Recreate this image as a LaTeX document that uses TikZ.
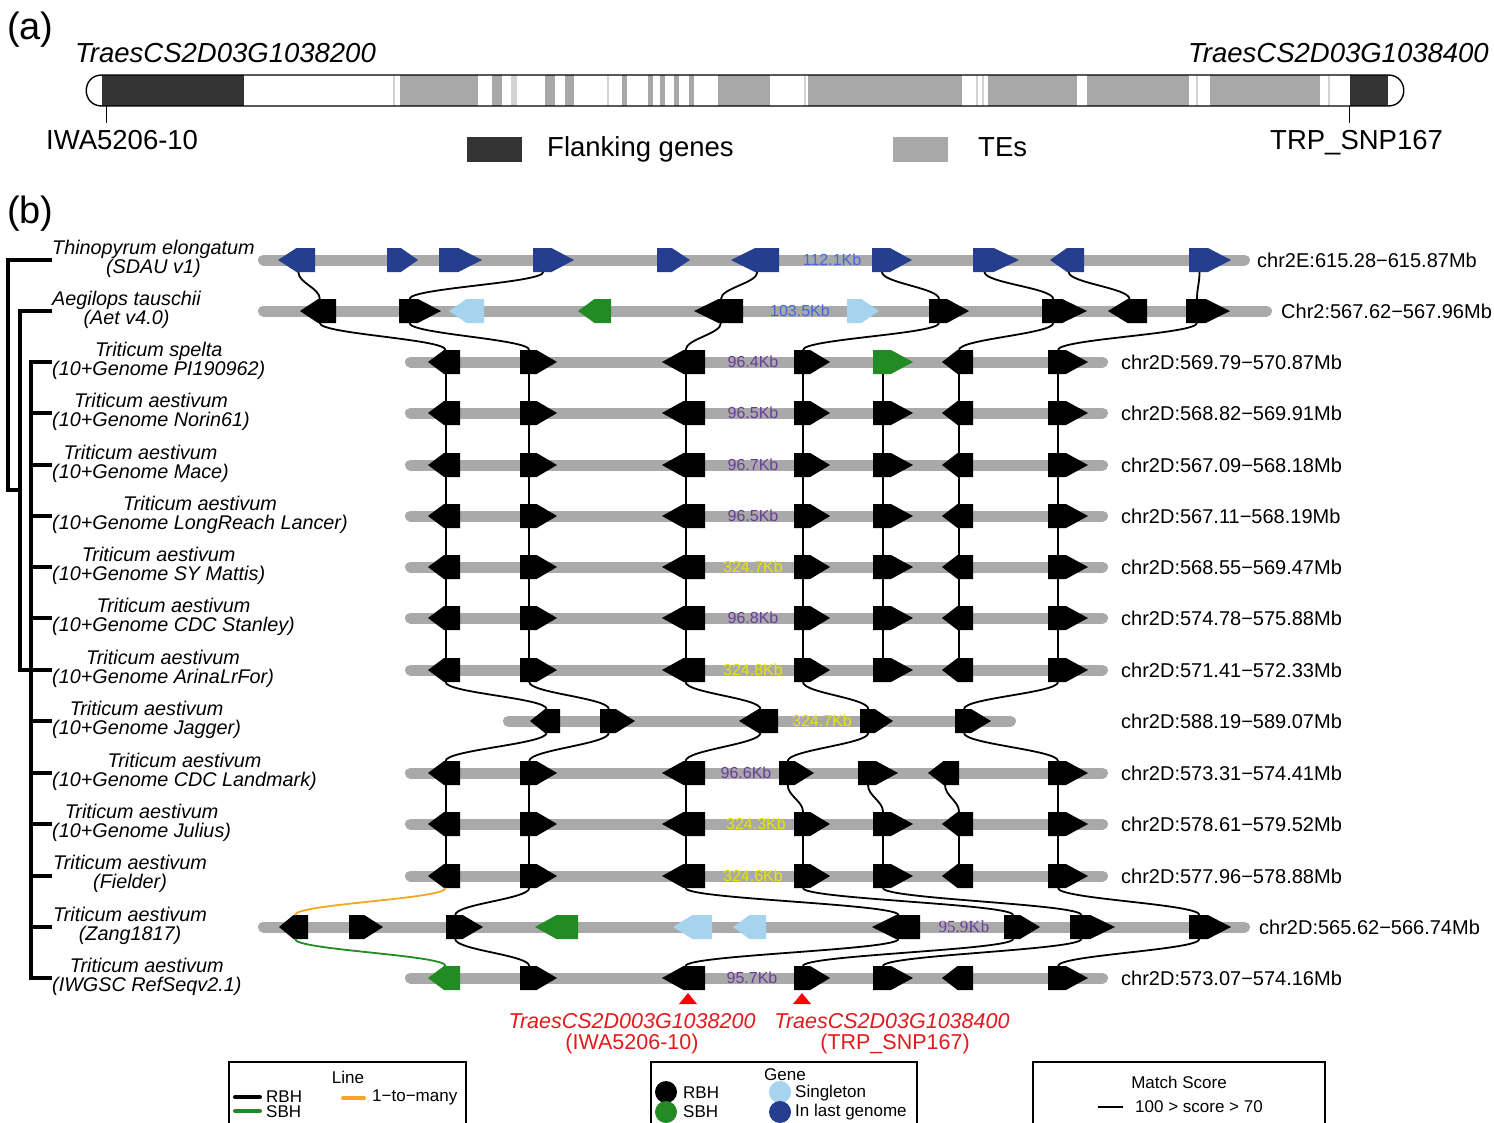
\documentclass[tikz,border=0pt]{standalone}
\usepackage{fontspec}
\setmainfont{Liberation Sans}
\newfontfamily\serifb{Liberation Serif}
\definecolor{barg}{HTML}{A9A9A9}
\definecolor{gblue}{HTML}{253F8E}
\definecolor{glb}{HTML}{A6D3EE}
\definecolor{ggreen}{HTML}{238B23}
\definecolor{kbblue}{HTML}{4169E1}
\definecolor{kbpur}{HTML}{6A3D9A}
\definecolor{kbyel}{HTML}{E6E600}
\definecolor{lorange}{HTML}{F5A623}
\definecolor{dred}{HTML}{E31A1C}
\definecolor{flank}{HTML}{333333}
\definecolor{tegray}{HTML}{A8A8A8}
\newcommand\fsz[1]{\fontsize{#1}{#1}\selectfont}
% right-pointing gene: name x1 x2 y colour
\newcommand\gR[5]{%
  \pgfmathsetmacro\gm{#2+0.45*(#3-#2)}%
  \pgfmathsetmacro\ga{#2+0.25*(#3-#2)}%
  \fill[#5] (#2,#4-12) -- (\gm,#4-12) -- (#3,#4) -- (\gm,#4+12) -- (#2,#4+12) -- cycle;
  \coordinate (#1-t) at (\ga,#4-12);
  \coordinate (#1-b) at (\ga,#4+12);
}
% left-pointing gene
\newcommand\gL[5]{%
  \pgfmathsetmacro\gm{#3-0.5*(#3-#2)}%
  \pgfmathsetmacro\ga{#3-0.45*(#3-#2)}%
  \fill[#5] (#3,#4-12) -- (\gm,#4-12) -- (#2,#4) -- (\gm,#4+12) -- (#3,#4+12) -- cycle;
  \coordinate (#1-t) at (\ga,#4-12);
  \coordinate (#1-b) at (\ga,#4+12);
}
\begin{document}
\begin{tikzpicture}[x=1pt,y=-1pt,
  sp/.style={anchor=west, align=center, inner sep=0, font=\fontsize{19.8}{19}\selectfont\itshape},
  chr/.style={anchor=west, inner sep=0, font=\fsz{20}},
  kb/.style={inner sep=0, font=\fsz{16}},
  bar/.style={line width=11, line cap=round, draw=barg},
  link/.style={line width=1.8, draw=black},
  tree/.style={line width=3.5, line cap=rect, line join=miter},
  txt/.style={inner sep=0},
  legt/.style={inner sep=0, font=\fsz{17}},
  legbox/.style={draw=black, line width=1.1},
  redl/.style={inner sep=0, text=dred, font=\fsz{21.5}}
]
\useasboundingbox (0,0) rectangle (1494,1122);
\clip (0,0) rectangle (1494,1122);
\fill[white] (0,0) rectangle (1494,1122);

%%%%%%%%%%%%%%%% (a)
\node[txt, anchor=base west, font=\fsz{38}] (pa) at (7,39) {(a)};
\node[txt, anchor=base west, font=\fsz{27.5}\itshape] (ga1) at (75,62) {TraesCS2D03G1038200};
\node[txt, anchor=base east, font=\fsz{27.5}\itshape] (ga2) at (1489,62) {TraesCS2D03G1038400};
\begin{scope}
  \clip (102,75) -- (1388,75) .. controls (1409,75) and (1409,106) .. (1388,106) -- (102,106) .. controls (81,106) and (81,75) .. (102,75) -- cycle;
  \fill[flank] (102,75) rectangle (244,106);
  \fill[flank] (1350,75) rectangle (1388,106);
  \foreach \a/\b in {400/478,492/502,545/555,565/574,622/627,648/653,660/665,674/679,689/694,718/770,808/962,988/1077,1087/1189,1210/1320}
    \fill[tegray] (\a,75) rectangle (\b,106);
  \foreach \a/\b in {393/394.5,511/517,607/608.5,804/805.5,976/978,982/984,1196/1197.5,1328/1329.5}
    \fill[tegray!50] (\a,75) rectangle (\b,106);
\end{scope}
\draw[line width=1.4] (102,75) -- (1388,75) .. controls (1409,75) and (1409,106) .. (1388,106) -- (102,106) .. controls (81,106) and (81,75) .. (102,75) -- cycle;
\coordinate (mk1) at (106,106);
\coordinate (mk2) at (1349,106);
\node[txt, anchor=base west, font=\fsz{27.5}] (m1l) at (46,149) {IWA5206-10};
\node[txt, anchor=base west, font=\fsz{27.5}] (m2l) at (1270,149) {TRP\_SNP167};
\draw[line width=1] (mk1) -- ++(0,17);
\draw[line width=1] (mk2) -- ++(0,17);
\fill[flank] (467,137) rectangle (522,162);
\node[txt, anchor=base west, font=\fsz{27.5}] (lfl) at (547,156) {Flanking genes};
\fill[tegray] (893,137) rectangle (948,162);
\node[txt, anchor=base west, font=\fsz{27.5}] (lte) at (978,156) {TEs};

%%%%%%%%%%%%%%%% (b)
\node[txt, anchor=base west, font=\fsz{38}] (pb) at (7,223) {(b)};

% tree
\draw[tree] (50,260) -- (8,260) -- (8,490) -- (20,490);
\draw[tree] (50,311) -- (20,311) -- (20,670) -- (31,670);
\draw[tree] (31,362) -- (31,978);
\foreach \y in {362,413,465,516,567,618,670,721,773,824,876,927,978}
  \draw[tree] (31,\y) -- (50,\y);

% species labels
\node[sp] (s1) at (52,259) {Thinopyrum elongatum\\(SDAU v1)};
\node[sp] (s2) at (52,310) {Aegilops tauschii\\(Aet v4.0)};
\node[sp] (s3) at (52,361) {Triticum spelta\\(10+Genome PI190962)};
\node[sp] (s4) at (52,412) {Triticum aestivum\\(10+Genome Norin61)};
\node[sp] (s5) at (52,464) {Triticum aestivum\\(10+Genome Mace)};
\node[sp] (s6) at (52,515) {Triticum aestivum\\(10+Genome LongReach Lancer)};
\node[sp] (s7) at (52,566) {Triticum aestivum\\(10+Genome SY Mattis)};
\node[sp] (s8) at (52,617) {Triticum aestivum\\(10+Genome CDC Stanley)};
\node[sp] (s9) at (52,669) {Triticum aestivum\\(10+Genome ArinaLrFor)};
\node[sp] (s10) at (52,720) {Triticum aestivum\\(10+Genome Jagger)};
\node[sp] (s11) at (52,772) {Triticum aestivum\\(10+Genome CDC Landmark)};
\node[sp] (s12) at (52,823) {Triticum aestivum\\(10+Genome Julius)};
\node[sp] (s13) at (53,874) {Triticum aestivum\\(Fielder)};
\node[sp] (s14) at (53,926) {Triticum aestivum\\(Zang1817)};
\node[sp] (s15) at (52,977) {Triticum aestivum\\(IWGSC RefSeqv2.1)};

% bars
\draw[bar] (263.5,260) -- (1244.5,260);
\draw[bar] (263.5,311) -- (1266.5,311);
\foreach \y in {362,413,465,516,567,618,670,773,824,876,978}
  \draw[bar] (410.5,\y) -- (1102.5,\y);
\draw[bar] (508.5,721) -- (1010.5,721);
\draw[bar] (263.5,927) -- (1244.5,927);

% row 1
\gL{t1}{278}{315}{260}{gblue}
\gR{t2}{387}{418}{260}{gblue}
\gR{t3}{439}{482}{260}{gblue}
\gR{t4}{533}{574}{260}{gblue}
\gR{t5}{657}{690}{260}{gblue}
\gL{t6}{731}{779}{260}{gblue}
\gR{t7}{872}{912}{260}{gblue}
\gR{t8}{973}{1019}{260}{gblue}
\gL{t9}{1050}{1084}{260}{gblue}
\gR{t10}{1189}{1231}{260}{gblue}
% row 2
\gL{a1}{300}{336}{311}{black}
\gR{a2}{399}{441}{311}{black}
\gL{a3}{449}{484}{311}{glb}
\gL{a4}{578}{611}{311}{ggreen}
\gL{a5}{694}{743}{311}{black}
\gR{a6}{847}{879}{311}{glb}
\gR{a7}{929}{969}{311}{black}
\gR{a8}{1042}{1087}{311}{black}
\gL{a9}{1108}{1147}{311}{black}
\gR{a10}{1186}{1230}{311}{black}
% row 3
\gL{r3A}{428}{460}{362}{black}
\gR{r3B}{520}{557}{362}{black}
\gL{r3C}{662}{705}{362}{black}
\gR{r3D}{794}{830}{362}{black}
\gR{r3E}{873}{913}{362}{ggreen}
\gL{r3F}{942}{973}{362}{black}
\gR{r3G}{1048}{1088}{362}{black}
% standard rows
\foreach \rw/\y in {4/413,5/465,6/516,7/567,8/618,9/670,12/824,13/876} {
  \gL{r\rw A}{428}{460}{\y}{black}
  \gR{r\rw B}{520}{557}{\y}{black}
  \gL{r\rw C}{662}{705}{\y}{black}
  \gR{r\rw D}{794}{830}{\y}{black}
  \gR{r\rw E}{873}{913}{\y}{black}
  \gL{r\rw F}{942}{973}{\y}{black}
  \gR{r\rw G}{1048}{1088}{\y}{black}
}
% row 10 Jagger
\gL{j1}{530}{560}{721}{black}
\gR{j2}{600}{635}{721}{black}
\gL{j3}{739}{778}{721}{black}
\gR{j4}{860}{893}{721}{black}
\gR{j5}{955}{991}{721}{black}
% row 11 CDC Landmark
\gL{r11A}{428}{460}{773}{black}
\gR{r11B}{520}{557}{773}{black}
\gL{r11C}{662}{705}{773}{black}
\gR{r11D}{779}{814}{773}{black}
\gR{r11E}{858}{898}{773}{black}
\gL{r11F}{928}{959}{773}{black}
\gR{r11G}{1048}{1088}{773}{black}
% row 14 Zang1817
\gL{z1}{279}{308}{927}{black}
\gR{z2}{349}{383}{927}{black}
\gR{z3}{446}{483}{927}{black}
\gL{z4}{535}{578}{927}{ggreen}
\gL{z5}{673}{712}{927}{glb}
\gL{z6}{733}{766}{927}{glb}
\gL{z7}{872}{920}{927}{black}
\gR{z8}{1004}{1040}{927}{black}
\gR{z9}{1070}{1115}{927}{black}
\gR{z10}{1189}{1231}{927}{black}
% row 15 IWGSC
\gL{r15A}{428}{460}{978}{ggreen}
\gR{r15B}{520}{557}{978}{black}
\gL{r15C}{662}{705}{978}{black}
\gR{r15D}{794}{830}{978}{black}
\gR{r15E}{873}{913}{978}{black}
\gL{r15F}{942}{973}{978}{black}
\gR{r15G}{1048}{1088}{978}{black}

% links
\foreach \p/\q in {t1/a1,t4/a2,t6/a5,t7/a7,t8/a8,t9/a9,t10/a10,
  a1/r3A,a2/r3B,a5/r3C,a7/r3D,a8/r3F,a10/r3G,
  r9A/j1,r9B/j2,r9C/j3,r9D/j4,r9G/j5,
  j1/r11A,j2/r11B,j3/r11C,j4/r11D,j5/r11G,
  r13B/z3,r13C/z7,r13D/z8,r13E/z9,r13G/z10,
  z3/r15B,z7/r15C,z8/r15D,z9/r15E,z10/r15G}
  \draw[link] (\p-b) .. controls +(0,11) and +(0,-11) .. (\q-t);
\foreach \p/\q in {3/4,4/5,5/6,6/7,7/8,8/9,11/12,12/13}
  \foreach \c in {A,B,C,D,E,F,G}
    \draw[link] (r\p\c-b) .. controls +(0,11) and +(0,-11) .. (r\q\c-t);
\draw[link, draw=lorange] (r13A-b) .. controls +(0,11) and +(0,-11) .. (z1-t);
\draw[link, draw=ggreen] (z1-b) .. controls +(0,11) and +(0,-11) .. (r15A-t);

% size labels
\node[kb, text=kbblue] (k1) at (832,260) {112.1Kb};
\node[kb, text=kbblue] (k2) at (800,311) {103.5Kb};
\node[kb, text=kbpur] (k3) at (753,362) {96.4Kb};
\node[kb, text=kbpur] (k4) at (753,413) {96.5Kb};
\node[kb, text=kbpur] (k5) at (753,465) {96.7Kb};
\node[kb, text=kbpur] (k6) at (753,516) {96.5Kb};
\node[kb, text=kbyel] (k7) at (753,567) {324.7Kb};
\node[kb, text=kbpur] (k8) at (753,618) {96.8Kb};
\node[kb, text=kbyel] (k9) at (753,670) {324.8Kb};
\node[kb, text=kbyel] (k10) at (822,721) {324.7Kb};
\node[kb, text=kbpur] (k11) at (746,773) {96.6Kb};
\node[kb, text=kbyel] (k12) at (756,824) {324.3Kb};
\node[kb, text=kbyel] (k13) at (753,876) {324.6Kb};
\node[kb, text=kbpur, font=\serifb\fsz{17}] (k14) at (964,927) {95.9Kb};
\node[kb, text=kbpur] (k15) at (752,978) {95.7Kb};

% chromosome labels
\node[chr] (c1) at (1257,260) {chr2E:615.28−615.87Mb};
\node[chr] (c2) at (1281,311) {Chr2:567.62−567.96Mb};
\node[chr] (c3) at (1121,362) {chr2D:569.79−570.87Mb};
\node[chr] (c4) at (1121,413) {chr2D:568.82−569.91Mb};
\node[chr] (c5) at (1121,465) {chr2D:567.09−568.18Mb};
\node[chr] (c6) at (1121,516) {chr2D:567.11−568.19Mb};
\node[chr] (c7) at (1121,567) {chr2D:568.55−569.47Mb};
\node[chr] (c8) at (1121,618) {chr2D:574.78−575.88Mb};
\node[chr] (c9) at (1121,670) {chr2D:571.41−572.33Mb};
\node[chr] (c10) at (1121,721) {chr2D:588.19−589.07Mb};
\node[chr] (c11) at (1121,773) {chr2D:573.31−574.41Mb};
\node[chr] (c12) at (1121,824) {chr2D:578.61−579.52Mb};
\node[chr] (c13) at (1121,876) {chr2D:577.96−578.88Mb};
\node[chr] (c14) at (1259,927) {chr2D:565.62−566.74Mb};
\node[chr] (c15) at (1121,978) {chr2D:573.07−574.16Mb};

% markers
\fill[red] (679,1004) -- (697,1004) -- (688,993) -- cycle;
\fill[red] (793,1004) -- (811,1004) -- (802,993) -- cycle;
\node[redl, font=\fsz{21.5}\itshape] (rl1) at (632,1021) {TraesCS2D003G1038200};
\node[redl] (rl2) at (632,1044) {(IWA5206-10)};
\node[redl, font=\fsz{21.5}\itshape] (rl3) at (892,1021) {TraesCS2D03G1038400};
\node[redl] (rl4) at (895,1044) {(TRP\_SNP167)};

% legends
\draw[legbox] (229,1062) rectangle (466,1140);
\draw[line width=2] (229,1062) -- (466,1062);
\node[legt] (lline) at (348,1077) {Line};
\draw[line width=4, line cap=round] (235,1097) -- (260,1097);
\node[legt, anchor=west] (lrbh) at (266,1097) {RBH};
\draw[line width=4, line cap=round, ggreen] (235,1111) -- (260,1111);
\node[legt, anchor=west] (lsbh) at (266,1112) {SBH};
\draw[line width=4, line cap=round, lorange] (343,1098) -- (364,1098);
\node[legt, anchor=west] (l1tm) at (372,1097) {1−to−many};

\draw[legbox] (651,1062) rectangle (917,1140);
\draw[line width=2] (651,1062) -- (917,1062);
\node[legt] (lgene) at (785,1075) {Gene};
\fill[black] (666,1092) circle (11);
\fill[ggreen] (666,1112) circle (11);
\fill[glb] (780,1092) circle (11);
\fill[gblue] (780,1112) circle (11);
\node[legt, anchor=west] (lg1) at (683,1093) {RBH};
\node[legt, anchor=west] (lg2) at (683,1112) {SBH};
\node[legt, anchor=west] (lg3) at (795,1093) {Singleton};
\node[legt, anchor=west] (lg4) at (795,1112) {In last genome};

\draw[legbox] (1033,1062) rectangle (1325,1140);
\draw[line width=2] (1033,1062) -- (1325,1062);
\node[legt] (lms) at (1179,1082) {Match Score};
\draw[line width=1.6] (1098,1107) -- (1123,1107);
\node[legt, anchor=west] (lsc) at (1135,1107) {100 > score > 70};
\end{tikzpicture}
\end{document}
